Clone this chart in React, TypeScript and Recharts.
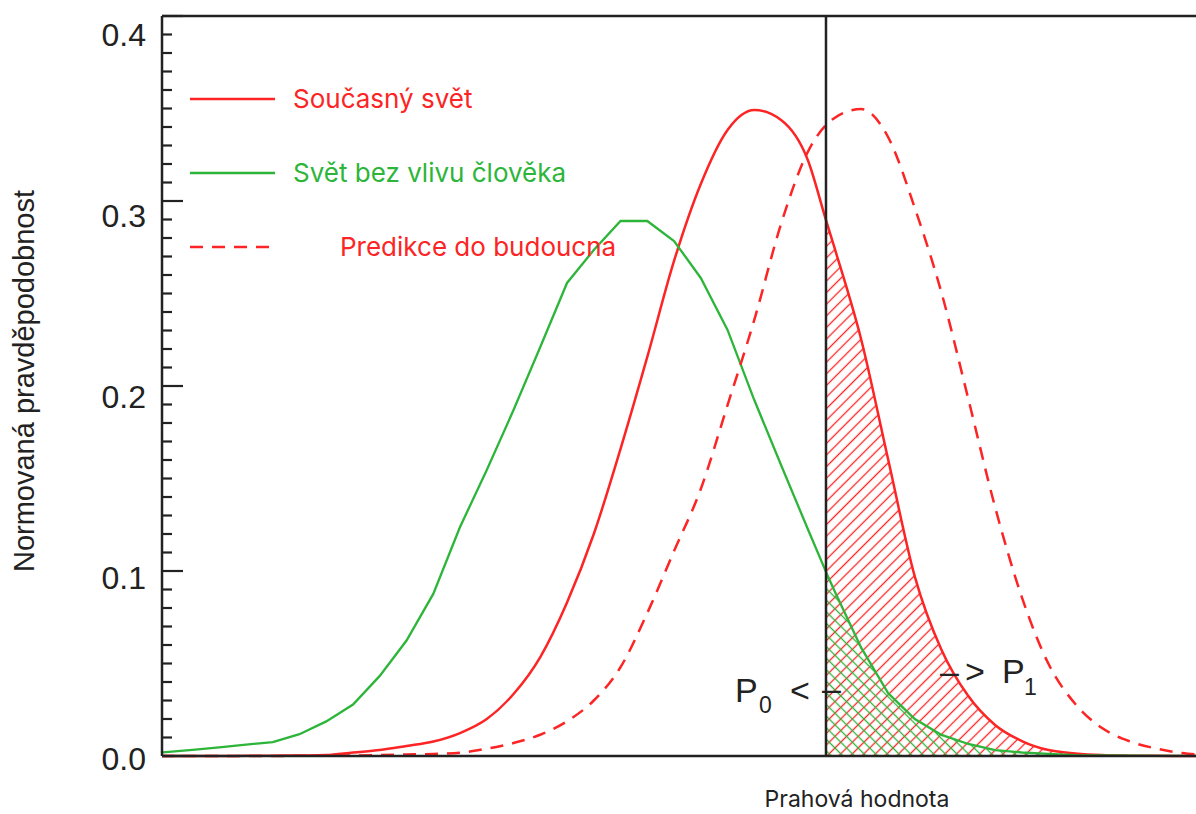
import {
  Area,
  ComposedChart,
  Legend,
  Line,
  ReferenceLine,
  XAxis,
  YAxis,
} from 'recharts'

// x has no scale in the original, so it is just a position index; the threshold sits between 24 and 25
const XS = [
  -1, 0, 1, 2, 3, 4, 5, 6, 7, 8, 9, 10, 11, 12, 13, 14, 15, 16, 17, 18, 19, 20, 21, 22, 23, 24,
  24.68, 25, 26, 27, 28, 29, 30, 31, 32, 33, 34, 35, 36, 37, 38, 39,
]
const THRESHOLD = 24.68

// Současný svět
const CURRENT = [
  0, 0, 0, 0, 0.0001, 0.0002, 0.0003, 0.0005, 0.0019, 0.0032, 0.0054, 0.0078, 0.0124, 0.02,
  0.0335, 0.0535, 0.083, 0.12, 0.166, 0.2157, 0.2676, 0.3092, 0.3384, 0.3492, 0.3438, 0.3222,
  0.2897, 0.2746, 0.2249, 0.1605, 0.097, 0.0573, 0.0324, 0.0168, 0.0081, 0.0032, 0.0014, 0.0005,
  0.0002, 0.0001, 0, 0,
]
// Svět bez vlivu člověka
const NATURAL = [
  0.0012, 0.0021, 0.0033, 0.0047, 0.0062, 0.0075, 0.0118, 0.0187, 0.0278, 0.0433, 0.0624, 0.0876,
  0.1238, 0.1546, 0.187, 0.2211, 0.2557, 0.2735, 0.2892, 0.2892, 0.2784, 0.2584, 0.2303, 0.1924,
  0.1573, 0.1227, 0.0995, 0.0892, 0.0584, 0.034, 0.02, 0.0114, 0.0065, 0.0032, 0.0019, 0.0011,
  0.0005, 0.0003, 0.0002, 0.0001, 0.0001, 0.0001,
]
// Predikce do budoucna
const FUTURE = [
  0, 0, 0, 0, 0, 0, 0.0001, 0.0002, 0.0003, 0.0005, 0.0008, 0.0011, 0.0017, 0.004, 0.007, 0.0115,
  0.0188, 0.03, 0.048, 0.0773, 0.1108, 0.1443, 0.1897, 0.2357, 0.2876, 0.3265, 0.3411, 0.3449,
  0.3497, 0.3346, 0.2962, 0.2503, 0.193, 0.1346, 0.0859, 0.0497, 0.0281, 0.0151, 0.0081, 0.0041,
  0.0016, 0.0005,
]

const SERIES_NAMES = ['Současný svět', 'Svět bez vlivu člověka', 'Predikce do budoucna']
const Y_TICKS = [0, 0.1, 0.2, 0.3, 0.4]
const Y_TICK_LABELS = ['0.0', '0.1', '0.2', '0.3', '0.4']
const Y_MINOR_STEP = 0.01
const Y_LABEL = 'Normovaná pravděpodobnost'
const X_LABEL = 'Prahová hodnota'

const RED = '#fc2424'
const GREEN = '#2db53a'
const INK = '#222'
const SANS = "'Liberation Sans', Arial, Helvetica, sans-serif"
const LEGEND_FONT = "Inter, 'Noto Sans', sans-serif"

const data = XS.map((x, i) => ({
  x,
  current: CURRENT[i],
  natural: NATURAL[i],
  future: FUTURE[i],
  currentTail: x >= THRESHOLD ? CURRENT[i] : null,
  naturalTail: x >= THRESHOLD ? NATURAL[i] : null,
}))

const minorTicks = Array.from({ length: 41 }, (_, i) => Math.round(i * Y_MINOR_STEP * 100) / 100)

function majorIndex(v: number) {
  return Y_TICKS.findIndex((t) => Math.abs(t - v) < 1e-9)
}

function LeftTick({ x, y, payload }: any) {
  const idx = majorIndex(payload.value)
  // the labels in the original sit a little below their ticks, more so towards the top
  const drop = 2 + 42 * payload.value
  return (
    <g>
      <line x1={x} x2={x + (idx >= 0 ? 21 : 10)} y1={y} y2={y} stroke={INK} strokeWidth={2.2} />
      {idx >= 0 && (
        <text
          x={x - 16}
          y={y + drop + 11.5}
          textAnchor="end"
          fontSize={32}
          fontFamily={SANS}
          fill={INK}
        >
          {Y_TICK_LABELS[idx]}
        </text>
      )}
    </g>
  )
}

function RightTick({ x, y, payload }: any) {
  const major = majorIndex(payload.value) >= 0
  return <line x1={x} x2={x - (major ? 20 : 10)} y1={y} y2={y} stroke={INK} strokeWidth={2.2} />
}

function YLabel({ viewBox }: any) {
  const cx = viewBox.x + 34
  const cy = viewBox.y + viewBox.height / 2 - 5
  return (
    <text
      x={cx}
      y={cy}
      transform={`rotate(-90, ${cx}, ${cy})`}
      textAnchor="middle"
      fontSize={29}
      fontFamily={SANS}
      fill={INK}
    >
      {Y_LABEL}
    </text>
  )
}

function XLabel({ viewBox }: any) {
  return (
    <text
      x={viewBox.x + 695}
      y={viewBox.y + 51}
      textAnchor="middle"
      fontSize={23}
      fontFamily={LEGEND_FONT}
      fill={INK}
    >
      {X_LABEL}
    </text>
  )
}

// P0 <–   –> P1 around the threshold line
function ThresholdNote({ viewBox }: any) {
  const x = viewBox.x
  const base = viewBox.y + viewBox.height
  return (
    <g fill={INK} fontFamily={SANS}>
      <text y={base - 54} fontSize={34}>
        <tspan x={x - 91}>P</tspan>
        <tspan x={x - 67} dy={11} fontSize={23}>
          0
        </tspan>
        <tspan x={x - 36} dy={-11}>
          &lt;
        </tspan>
        <tspan x={x - 4} dy={-2}>
          –
        </tspan>
      </text>
      <text y={base - 73} fontSize={34}>
        <tspan x={x + 114}>–</tspan>
        <tspan x={x + 139}>&gt;</tspan>
        <tspan x={x + 176}>P</tspan>
        <tspan x={x + 198} dy={12} fontSize={23}>
          1
        </tspan>
      </text>
    </g>
  )
}

function LegendBox({ payload }: any) {
  const items = SERIES_NAMES.map((n) => (payload || []).find((p: any) => p.value === n)).filter(
    Boolean,
  )
  return (
    <div style={{ fontFamily: LEGEND_FONT, fontSize: 26 }}>
      {items.map((p: any) => {
        const dashed = Boolean(p.payload?.strokeDasharray) || p.value === SERIES_NAMES[2]
        return (
          <div key={p.value} style={{ display: 'flex', alignItems: 'center', height: 74 }}>
            <svg width={85} height={6} style={{ display: 'block' }}>
              <line
                x1={0}
                x2={85}
                y1={3}
                y2={3}
                stroke={p.color}
                strokeWidth={2.5}
                strokeDasharray={dashed ? '13 9' : undefined}
              />
            </svg>
            <span style={{ marginLeft: dashed ? 65 : 18, color: p.color, lineHeight: 1 }}>
              {p.value}
            </span>
          </div>
        )
      })}
    </div>
  )
}

export default function App() {
  return (
    <div
      style={{
        position: 'fixed',
        left: 0,
        top: 0,
        width: 1196,
        height: 814,
        overflow: 'hidden',
        background: '#fff',
      }}
    >
      <ComposedChart
        width={1230}
        height={814}
        data={data}
        margin={{ top: 16, right: 6, bottom: 0, left: 0 }}
      >
        <defs>
          <pattern
            id="hatchRed"
            patternUnits="userSpaceOnUse"
            width={8.2}
            height={8.2}
            patternTransform="rotate(45)"
          >
            <line x1={4.1} y1={0} x2={4.1} y2={8.2} stroke={RED} strokeWidth={1.3} />
          </pattern>
          <pattern
            id="hatchGreen"
            patternUnits="userSpaceOnUse"
            width={8.2}
            height={8.2}
            patternTransform="rotate(-45)"
          >
            <line x1={4.1} y1={0} x2={4.1} y2={8.2} stroke={GREEN} strokeWidth={1.3} />
          </pattern>
        </defs>
        <XAxis
          dataKey="x"
          type="number"
          domain={[-0.14, 38.81]}
          allowDataOverflow
          tick={false}
          tickLine={false}
          height={58}
          axisLine={{ stroke: INK, strokeWidth: 2.5 }}
          label={XLabel}
        />
        <YAxis
          yAxisId="left"
          domain={[0, 0.4]}
          ticks={minorTicks}
          interval={0}
          width={162}
          tickSize={0}
          tickMargin={0}
          tickLine={false}
          tick={LeftTick}
          axisLine={{ stroke: INK, strokeWidth: 2.5 }}
          label={YLabel}
        />
        <YAxis
          yAxisId="right"
          orientation="right"
          domain={[0, 0.4]}
          ticks={minorTicks}
          interval={0}
          width={20}
          tickSize={0}
          tickMargin={0}
          tickLine={false}
          tick={RightTick}
          axisLine={{ stroke: INK, strokeWidth: 2.5 }}
        />
        <Legend
          layout="vertical"
          align="center"
          verticalAlign="middle"
          wrapperStyle={{ left: 190, top: 62 }}
          content={LegendBox}
        />
        <Area
          yAxisId="left"
          dataKey="currentTail"
          type="monotone"
          fill="url(#hatchRed)"
          fillOpacity={1}
          stroke="none"
          legendType="none"
          isAnimationActive={false}
        />
        <Area
          yAxisId="left"
          dataKey="naturalTail"
          type="linear"
          fill="url(#hatchGreen)"
          fillOpacity={1}
          stroke="none"
          legendType="none"
          isAnimationActive={false}
        />
        <Line
          yAxisId="left"
          dataKey="current"
          name={SERIES_NAMES[0]}
          type="monotone"
          stroke={RED}
          strokeWidth={2.5}
          dot={false}
          isAnimationActive={false}
        />
        <Line
          yAxisId="left"
          dataKey="natural"
          name={SERIES_NAMES[1]}
          type="linear"
          stroke={GREEN}
          strokeWidth={2.3}
          dot={false}
          isAnimationActive={false}
        />
        <Line
          yAxisId="left"
          dataKey="future"
          name={SERIES_NAMES[2]}
          type="monotone"
          stroke={RED}
          strokeWidth={2.5}
          strokeDasharray="13 9"
          dot={false}
          isAnimationActive={false}
        />
        <ReferenceLine
          yAxisId="left"
          x={THRESHOLD}
          stroke={INK}
          strokeWidth={2.5}
          label={ThresholdNote}
        />
        <ReferenceLine yAxisId="left" y={0.4} stroke={INK} strokeWidth={2.5} />
      </ComposedChart>
    </div>
  )
}
